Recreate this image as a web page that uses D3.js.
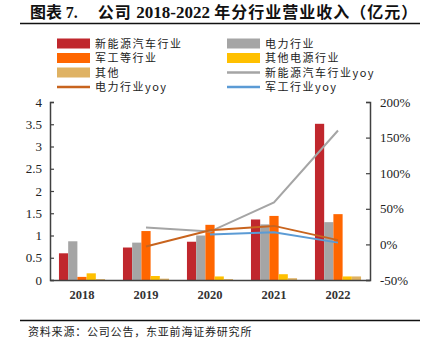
<!DOCTYPE html>
<html>
<head>
<meta charset="utf-8">
<script src="https://cdn.jsdelivr.net/npm/d3@7"></script>
<style>
  body { margin: 0; background: #fff; }
  svg { display: block; }
  .serif { font-family: 'Liberation Serif', 'DejaVu Serif', serif; }
  .cjk { font-family: 'Noto Sans CJK SC', sans-serif; }
</style>
</head>
<body>
<div id="chart"></div>
<script>
// Data
const years = ['2018', '2019', '2020', '2021', '2022'];
const seriesNames = ['新能源汽车行业', '电力行业', '军工等行业', '其他电源行业', '其他'];
const nev = [0.6, 0.73, 0.86, 1.36, 3.51];
const power = [0.87, 0.84, 1.0, 1.25, 1.3];
const military = [0.07, 1.1, 1.24, 1.44, 1.48];
const otherPower = [0.15, 0.09, 0.08, 0.13, 0.08];
const others = [0.02, 0.03, 0.02, 0.04, 0.08];
// yoy (%)
const nevYoy = [null, 23.7, 18, 59, 160];
const powerYoy = [null, -3, 20, 26, 6];
const militaryYoy = [null, null, 14, 17, 2.5];
const leftTicks = [0, 0.5, 1, 1.5, 2, 2.5, 3, 3.5, 4];
const rightTicks = [-50, 0, 50, 100, 150, 200];

const barColors = ['#C0272D', '#A5A5A5', '#FF6600', '#FFC000', '#DFB263'];
const lineColors = ['#A5A5A5', '#C8641E', '#5B9BD5'];

const W = 430, H = 351;
const margin = { l: 50, r: 60, t: 102, b: 71 };
const width = W - margin.l - margin.r;
const height = H - margin.t - margin.b;

const svg = d3.select('#chart').append('svg').attr('width', W).attr('height', H);

// title
const title = svg.append('text')
  .attr('x', 30).attr('y', 18)
  .attr('font-size', 16).attr('font-weight', 'bold')
  .attr('class', 'cjk').attr('fill', '#111')
  .style('white-space', 'pre');
title.append('tspan').text('图表 ');
title.append('tspan').attr('class', 'serif').text('7.     ');
title.append('tspan').attr('letter-spacing', 1).text('公司 ');
title.append('tspan').attr('class', 'serif').attr('font-size', 17).text('2018-2022 ');
title.append('tspan').attr('letter-spacing', 1).text('年分行业营业收入（亿元）');
svg.append('line').attr('x1', 20).attr('x2', 420).attr('y1', 23.5).attr('y2', 23.5)
  .attr('stroke', '#111').attr('stroke-width', 1.6);

// legend
const legendItems = [
  { name: seriesNames[0], color: barColors[0], type: 'bar' },
  { name: seriesNames[1], color: barColors[1], type: 'bar' },
  { name: seriesNames[2], color: barColors[2], type: 'bar' },
  { name: seriesNames[3], color: barColors[3], type: 'bar' },
  { name: seriesNames[4], color: barColors[4], type: 'bar' },
  { name: '新能源汽车行业yoy', color: lineColors[0], type: 'line' },
  { name: '电力行业yoy', color: lineColors[1], type: 'line' },
  { name: '军工行业yoy', color: lineColors[2], type: 'line' }
];
const legend = svg.append('g');
legendItems.forEach((d, i) => {
  const col = i % 2, row = Math.floor(i / 2);
  const gx = col === 0 ? 57 : 227;
  const gy = 43.5 + row * 14.5;
  const g = legend.append('g').attr('transform', `translate(${gx}, ${gy})`);
  if (d.type === 'bar') {
    g.append('rect').attr('x', 0).attr('y', -5).attr('width', 33).attr('height', 10).attr('fill', d.color);
  } else {
    g.append('line').attr('x1', 0).attr('x2', 33).attr('y1', 0).attr('y2', 0)
      .attr('stroke', d.color).attr('stroke-width', 2.5);
  }
  g.append('text').attr('x', 38).attr('y', 4).attr('font-size', 11).attr('letter-spacing', 1.5)
    .attr('class', 'cjk').attr('fill', '#222').text(d.name);
});

const plot = svg.append('g').attr('transform', `translate(${margin.l}, ${margin.t})`);

const x = d3.scaleBand(years, [0, width]);
const xs = d3.scaleBand(d3.range(5), [0, x.bandwidth() * 0.72]);
const y = d3.scaleLinear([0, 4], [height, 0]);
const y2 = d3.scaleLinear([-50, 200], [height, 0]);

// bars
const barSeries = [nev, power, military, otherPower, others];
const offset = (x.bandwidth() - x.bandwidth() * 0.72) / 2;
barSeries.forEach((vals, si) => {
  plot.append('g').attr('fill', barColors[si])
    .selectAll('rect')
    .data(vals)
    .join('rect')
    .attr('x', (d, i) => x(years[i]) + offset + xs(si))
    .attr('y', (d) => y(d))
    .attr('width', xs.bandwidth())
    .attr('height', (d) => height - y(d));
});

// lines
const line = d3.line()
  .defined((d) => d != null)
  .x((d, i) => x(years[i]) + x.bandwidth() / 2)
  .y((d) => y2(d));
[nevYoy, powerYoy, militaryYoy].forEach((vals, li) => {
  plot.append('path').datum(vals)
    .attr('fill', 'none').attr('stroke', lineColors[li]).attr('stroke-width', 2)
    .attr('d', line);
});

// axes
const axisColor = '#404040';
const yAxis = plot.append('g')
  .call(d3.axisLeft(y).tickValues(leftTicks).tickSize(-4).tickPadding(8).tickFormat(d3.format('')));
yAxis.selectAll('text').attr('class', 'serif').attr('font-size', 13).attr('fill', '#222');

const yAxis2 = plot.append('g').attr('transform', `translate(${width}, 0)`)
  .call(d3.axisRight(y2).tickValues(rightTicks).tickSize(-4).tickPadding(10).tickFormat((d) => d + '%'));
yAxis2.selectAll('text').attr('class', 'serif').attr('font-size', 13).attr('fill', '#222');

const xAxis = plot.append('g').attr('transform', `translate(0, ${height})`)
  .call(d3.axisBottom(x).tickSize(0).tickPadding(10));
xAxis.selectAll('text').attr('class', 'serif').attr('font-size', 12.5).attr('font-weight', 'bold').attr('fill', '#333');

[yAxis, yAxis2, xAxis].forEach((a) => {
  a.select('.domain').attr('stroke', axisColor).attr('stroke-width', 1.5);
  a.selectAll('.tick line').attr('stroke', axisColor).attr('stroke-width', 1.2);
});

// source
svg.append('line').attr('x1', 20).attr('x2', 420).attr('y1', 320.5).attr('y2', 320.5)
  .attr('stroke', '#111').attr('stroke-width', 1.4);
svg.append('text').attr('x', 28).attr('y', 336).attr('font-size', 11).attr('letter-spacing', 0.8)
  .attr('class', 'cjk').attr('fill', '#222').text('资料来源：公司公告，东亚前海证券研究所');
</script>
</body>
</html>
